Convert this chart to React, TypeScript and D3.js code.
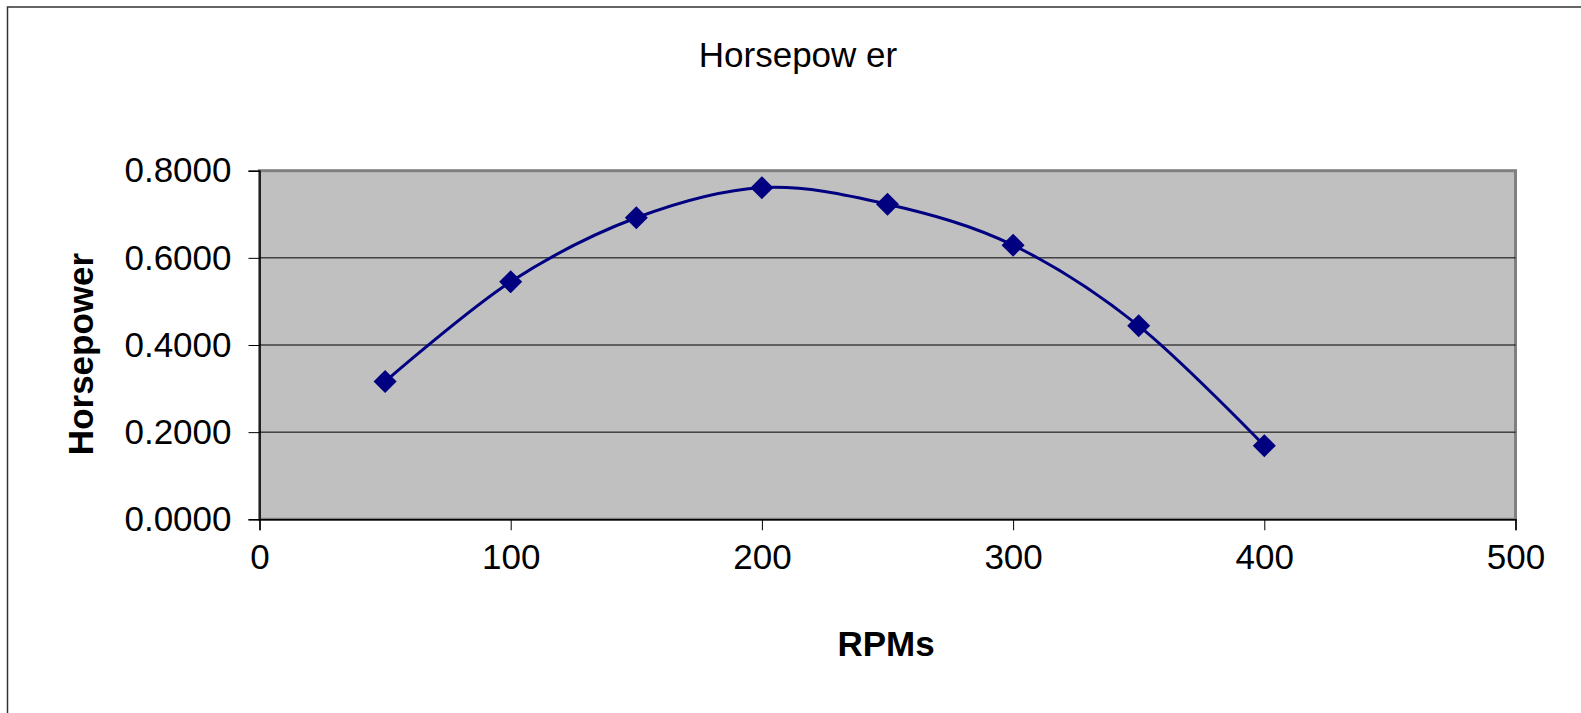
import React, { useEffect, useRef } from "react";
import * as d3 from "d3";

const rpms = [50, 100, 150, 200, 250, 300, 350, 400];
const horsepower = [0.316, 0.545, 0.692, 0.761, 0.723, 0.629, 0.444, 0.169];
const xTicks = [0, 100, 200, 300, 400, 500];
const yTicks = [0, 0.2, 0.4, 0.6, 0.8];

const W = 1581;
const H = 713;
const plot = { left: 259.5, right: 1515.5, top: 170.7, bottom: 519.3 };
const FONT = "'Liberation Sans', Arial, sans-serif";

export default function App() {
  const svgRef = useRef<SVGSVGElement>(null);

  useEffect(() => {
    const svg = d3.select(svgRef.current);
    svg.selectAll("*").remove();

    const x = d3.scaleLinear().domain([0, 500]).range([plot.left, plot.right]);
    const y = d3.scaleLinear().domain([0, 0.8]).range([plot.bottom, plot.top]);

    // chart frame (only top and left edges show)
    svg.append("rect")
      .attr("x", 7.5).attr("y", 7).attr("width", W + 20).attr("height", H + 20)
      .attr("fill", "#fff").attr("stroke", "#333").attr("stroke-width", 1.5);

    // plot area
    svg.append("rect")
      .attr("x", plot.left).attr("y", plot.top)
      .attr("width", plot.right - plot.left).attr("height", plot.bottom - plot.top)
      .attr("fill", "#c0c0c0").attr("stroke", "#808080").attr("stroke-width", 3);

    // gridlines
    svg.append("g")
      .selectAll("line")
      .data(yTicks.filter((d) => d > 0 && d < 0.8))
      .join("line")
      .attr("x1", plot.left).attr("x2", plot.right)
      .attr("y1", (d) => y(d)).attr("y2", (d) => y(d))
      .attr("stroke", "#000").attr("stroke-width", 1);

    // axes
    const yAxis = d3.axisLeft(y).tickValues(yTicks).tickFormat(d3.format(".4f")).tickSize(11).tickPadding(17);
    svg.append("g")
      .attr("transform", `translate(${plot.left},0)`)
      .call(yAxis)
      .call((g) => g.select(".domain").attr("stroke", "#000").attr("stroke-width", 1.5))
      .call((g) => g.selectAll(".tick line").attr("stroke", "#000"))
      .call((g) => g.selectAll(".tick text").attr("font-size", 35).attr("font-family", FONT).attr("fill", "#000"));

    const xAxis = d3.axisBottom(x).tickValues(xTicks).tickSize(11).tickPadding(14);
    svg.append("g")
      .attr("transform", `translate(0,${plot.bottom})`)
      .call(xAxis)
      .call((g) => g.select(".domain").attr("stroke", "#000").attr("stroke-width", 1.5))
      .call((g) => g.selectAll(".tick line").attr("stroke", "#000"))
      .call((g) => g.selectAll(".tick text").attr("font-size", 35).attr("font-family", FONT).attr("fill", "#000"));

    // series
    const pts = rpms.map((r, i) => [r, horsepower[i]] as [number, number]);
    const line = d3.line<[number, number]>()
      .x((d) => x(d[0]))
      .y((d) => y(d[1]))
      .curve(d3.curveCatmullRom.alpha(0));
    svg.append("path")
      .datum(pts)
      .attr("d", line)
      .attr("fill", "none")
      .attr("stroke", "#000080")
      .attr("stroke-width", 3);

    const diamond = d3.symbol().type(d3.symbolSquare).size(265);
    svg.append("g")
      .selectAll("path")
      .data(pts)
      .join("path")
      .attr("d", diamond)
      .attr("transform", (d) => `translate(${x(d[0])},${y(d[1])}) rotate(45)`)
      .attr("fill", "#000080");

    // titles
    svg.append("text")
      .attr("x", 798).attr("y", 67)
      .attr("text-anchor", "middle")
      .attr("font-family", FONT).attr("font-size", 35)
      .text("Horsepow er");

    svg.append("text")
      .attr("x", 886).attr("y", 656)
      .attr("text-anchor", "middle")
      .attr("font-family", FONT).attr("font-size", 35).attr("font-weight", "bold")
      .text("RPMs");

    svg.append("text")
      .attr("transform", `translate(93,354) rotate(-90)`)
      .attr("text-anchor", "middle")
      .attr("font-family", FONT).attr("font-size", 35).attr("font-weight", "bold")
      .text("Horsepower");
  }, []);

  return (
    <svg
      ref={svgRef}
      width={W}
      height={H}
      style={{ position: "absolute", left: 0, top: 0, background: "#fff" }}
    />
  );
}
